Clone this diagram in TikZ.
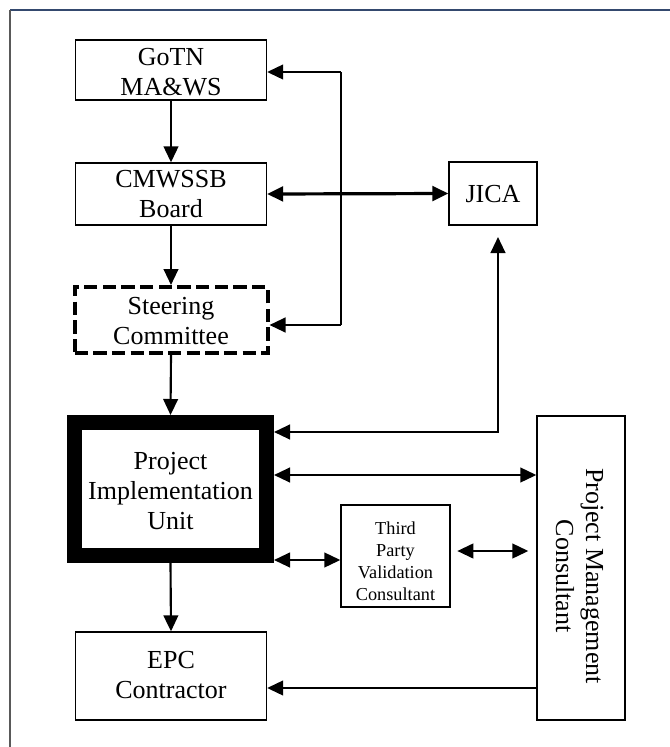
\documentclass[tikz,border=0pt]{standalone}
\usepackage{fontspec}
\setmainfont{Liberation Serif}
\usepackage{graphicx}
\usetikzlibrary{arrows.meta}
\definecolor{framenavy}{RGB}{52,73,110}
% centred lines of text, set a little below the middle of their box
\newcommand\boxtext[2][2.25pt]{\raisebox{-#1}[\height][\depth]{\begin{tabular}{@{}c@{}}#2\end{tabular}}}
\begin{document}
\begin{tikzpicture}[x=0.75pt,y=-0.75pt,
  box/.style={draw, line width=1pt, inner sep=0pt,
    font=\fontsize{19.5}{22.5}\selectfont},
  small/.style={font=\fontsize{13.7}{16.5}\selectfont},
  tip/.tip={Triangle[length=12pt,width=11pt]},
  oneway/.style={line width=1.6pt, -tip},
  twoway/.style={line width=1.6pt, tip-tip},
  ]
\useasboundingbox (0,0) rectangle (670,747);
\fill[white] (0,0) rectangle (670,747);

% page frame
\draw[line width=2.2pt, framenavy] (10,10) -- (670,10);
\draw[line width=1pt, black!65] (10,10) -- (10,747);

% boxes
\node[box, minimum width=143.25pt, minimum height=45pt] (gotn) at (171,70) {\boxtext[3pt]{GoTN\\MA\&WS}};
\node[box, minimum width=143.25pt, minimum height=46.5pt] (cmwssb) at (171,194) {\boxtext[1.5pt]{CMWSSB\\Board}};
\node[box, line width=3pt, dash pattern=on 10pt off 4pt, minimum width=144.75pt, minimum height=49.5pt] (steer) at (171,320) {\boxtext{Steering\\Committee}};
\node[box, line width=11.25pt, minimum width=144pt, minimum height=99.75pt] (piu) at (170.5,489) {\boxtext[3pt]{Project\\Implementation\\Unit}};
\node[box, minimum width=143.25pt, minimum height=66pt] (epc) at (171,676) {\boxtext[0.75pt]{EPC\\Contractor}};
\node[box, minimum width=66pt, minimum height=47.25pt] (jica) at (493,193.5) {\boxtext{JICA}};
\node[box, small, minimum width=81.75pt, minimum height=76.5pt] (tp) at (395.5,556) {\boxtext[5pt]{Third\\Party\\Validation\\Consultant}};
\node[box, minimum width=66pt, minimum height=228pt] (pmc) at (581,568)
  {\rotatebox{-90}{\hspace*{12pt}\raisebox{0pt}[\dimexpr\height+6pt\relax][\depth]{\begin{tabular}{@{}c@{}}Project Management\\Consultant\end{tabular}}}};

% chain of command
\draw[oneway] (gotn.south) -- (cmwssb.north);
\draw[oneway] (cmwssb.south) -- (steer.north);
\draw[oneway] (steer.south) -- (piu.north);
\draw[oneway] (piu.south) -- (epc.north);

% feedback to GoTN and the steering committee
\coordinate (fbtop) at (341,72);
\coordinate (fbbot) at (341,325);
\draw[line width=1.1pt] (fbtop) -- (fbbot);
\draw[oneway] (fbtop) -- (fbtop -| gotn.east);
\draw[oneway] (fbbot) -- (fbbot -| steer.east);

% board and JICA
\draw[line width=2.4pt, tip-tip] (cmwssb.east) -- (jica.west);

% PIU and JICA
\coordinate (jbend) at (498,432);
\coordinate (jtip) at (498,237);
\draw[twoway] (jtip) -- (jbend) -- (jbend -| piu.east);

% PIU, consultants and contractor
\coordinate (lvA) at (0,475);
\coordinate (lvB) at (0,560);
\coordinate (lvC) at (0,551);
\coordinate (lvD) at (0,688);
\draw[twoway] (lvA -| piu.east) -- (lvA -| pmc.west);
\draw[twoway] (lvB -| piu.east) -- (lvB -| tp.west);
\draw[twoway, shorten <=5pt, shorten >=6pt] (lvC -| tp.east) -- (lvC -| pmc.west);
\draw[oneway] (lvD -| pmc.west) -- (lvD -| epc.east);
\end{tikzpicture}
\end{document}
